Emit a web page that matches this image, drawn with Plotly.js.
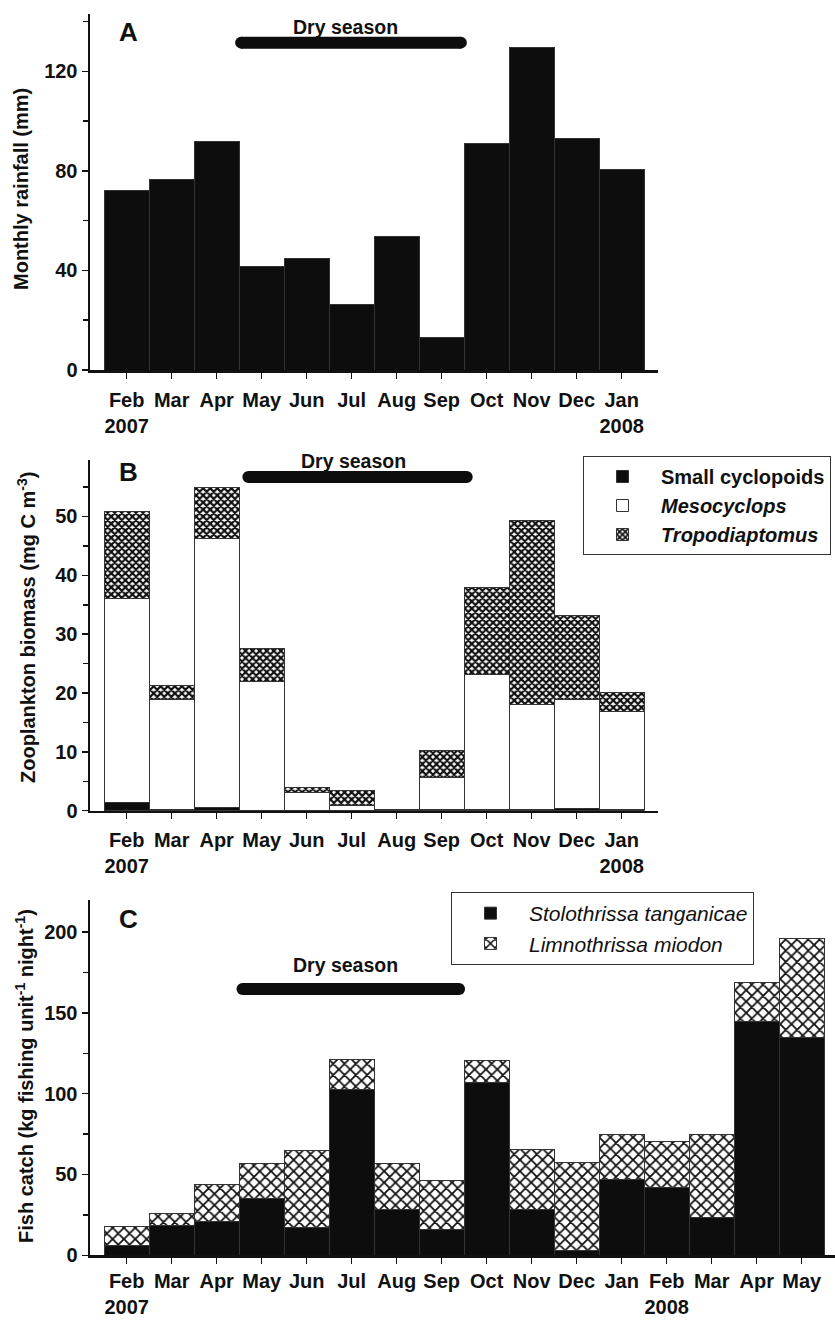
<!DOCTYPE html>
<html>
<head>
<meta charset="utf-8">
<script src="https://cdn.plot.ly/plotly-3.0.1.min.js"></script>
<style>html,body{margin:0;padding:0;background:#fff;}#chart{width:835px;height:1323px;}</style>
</head>
<body>
<div id="chart"></div>
<script>
// ---- Data ----
const monthsAB = ['Feb<br>2007','Mar','Apr','May','Jun','Jul','Aug','Sep','Oct','Nov','Dec','Jan<br>2008'];
const rainfall = [72, 76.7, 91.8, 41.6, 44.9, 26.5, 53.6, 13.1, 90.8, 129.6, 92.9, 80.4];

const smallCyclopoids = [1.4, 0.2, 0.5, 0.1, 0.1, 0.1, 0.2, 0.2, 0.2, 0.2, 0.4, 0.2];
const mesocyclops     = [34.6, 18.7, 45.8, 21.8, 3.0, 0.8, 0.0, 5.5, 22.9, 17.9, 18.5, 16.6];
const tropodiaptomus  = [14.9, 2.3, 8.6, 5.6, 0.8, 2.5, 0.0, 4.6, 14.8, 31.3, 14.2, 3.3];

const monthsC = ['Feb<br>2007','Mar','Apr','May','Jun','Jul','Aug','Sep','Oct','Nov','Dec','Jan','Feb<br>2008','Mar','Apr','May'];
const stolothrissa = [6.2, 18.5, 21.0, 34.9, 17.0, 102.3, 28.4, 16.0, 106.9, 28.1, 3.0, 46.6, 41.7, 23.6, 144.9, 134.6];
const limnothrissa = [11.9, 7.2, 22.6, 22.0, 47.7, 18.9, 28.5, 30.2, 13.7, 37.6, 54.5, 28.4, 28.6, 51.4, 24.1, 61.1];

// Dry season extents (month index units) per panel
const dryA = [2.41, 7.56], dryB = [2.57, 7.69], dryC = [2.44, 7.52];

// ---- Styling helpers ----
const FONT = '"Liberation Sans", Arial, sans-serif';
const idxAB = monthsAB.map((_, i) => i);
const idxC = monthsC.map((_, i) => i);
const outline = {color: '#333', width: 1};

const traces = [
  {type: 'bar', x: idxAB, y: rainfall, xaxis: 'x', yaxis: 'y', width: 1,
   marker: {color: '#0d0d0d', line: outline}, showlegend: false, hoverinfo: 'y'},

  {type: 'bar', x: idxAB, y: smallCyclopoids, xaxis: 'x2', yaxis: 'y2', width: 1,
   name: '<b>Small cyclopoids</b>', legend: 'legend',
   marker: {color: '#0d0d0d', line: outline}},
  {type: 'bar', x: idxAB, y: mesocyclops, xaxis: 'x2', yaxis: 'y2', width: 1,
   name: '<b><i>Mesocyclops</i></b>', legend: 'legend',
   marker: {color: '#ffffff', line: outline}},
  {type: 'bar', x: idxAB, y: tropodiaptomus, xaxis: 'x2', yaxis: 'y2', width: 1,
   name: '<b><i>Tropodiaptomus</i></b>', legend: 'legend',
   marker: {color: '#ffffff', line: outline,
            pattern: {shape: 'x', fgcolor: '#111', bgcolor: '#ffffff', size: 5, solidity: 0.68}}},

  {type: 'bar', x: idxC, y: stolothrissa, xaxis: 'x3', yaxis: 'y3', width: 1,
   name: '<i>Stolothrissa tanganicae</i>', legend: 'legend2',
   marker: {color: '#0d0d0d', line: outline}},
  {type: 'bar', x: idxC, y: limnothrissa, xaxis: 'x3', yaxis: 'y3', width: 1,
   name: '<i>Limnothrissa miodon</i>', legend: 'legend2',
   marker: {color: '#ffffff', line: outline,
            pattern: {shape: 'x', fgcolor: '#111', bgcolor: '#ffffff', size: 8, solidity: 0.4}}}
];

function xax(domain, range, ticktext, tickvals, standoff) {
  return {domain: domain, range: range, tickvals: tickvals, ticktext: ticktext,
    ticks: 'outside', ticklen: 6, tickwidth: 1.5, tickcolor: '#111', ticklabelstandoff: standoff,
    showline: true, linecolor: '#111', linewidth: 2.5, showgrid: false, zeroline: false,
    tickfont: {family: FONT, size: 20, color: '#111', weight: 'bold'}, fixedrange: true};
}
function yax(domain, range, dtick, minor, anchor) {
  return {domain: domain, range: range, dtick: dtick, tick0: 0, anchor: anchor,
    ticks: 'outside', ticklen: 6, tickwidth: 1.5, tickcolor: '#111',
    minor: {dtick: minor, ticks: 'outside', ticklen: 5, tickwidth: 1.5, tickcolor: '#111', showgrid: false},
    showline: true, linecolor: '#111', linewidth: 2.5, showgrid: false, zeroline: false,
    tickfont: {family: FONT, size: 20, color: '#111', weight: 'bold'},
    fixedrange: true};
}

const W = 835, H = 1323;
const px = v => v / W, py = v => 1 - v / H;

function dryShapes(xr, yc, xref, yref) {
  return [
    {type: 'rect', xref: xref, yref: yref, x0: xr[0], x1: xr[1], ysizemode: 'pixel', yanchor: yc,
     y0: -6, y1: 6, fillcolor: '#0d0d0d', line: {width: 0}, layer: 'above'},
    {type: 'circle', xref: xref, yref: yref, xsizemode: 'pixel', xanchor: xr[0], x0: -6, x1: 6,
     ysizemode: 'pixel', yanchor: yc, y0: -6, y1: 6, fillcolor: '#0d0d0d', line: {width: 0}},
    {type: 'circle', xref: xref, yref: yref, xsizemode: 'pixel', xanchor: xr[1], x0: -6, x1: 6,
     ysizemode: 'pixel', yanchor: yc, y0: -6, y1: 6, fillcolor: '#0d0d0d', line: {width: 0}}
  ];
}
function dryShapesInset(xr, yc, xref, yref, pxPerUnit) {
  const inset = 6 / pxPerUnit;
  return dryShapes([xr[0] + inset, xr[1] - inset], yc, xref, yref);
}

function ann(text, x, y, xref, yref, size, extra) {
  return Object.assign({text: text, x: x, y: y, xref: xref, yref: yref, showarrow: false,
    xanchor: 'center', yanchor: 'middle',
    font: {family: FONT, size: size, color: '#111', weight: 'bold'}}, extra || {});
}
function ytitle(text, xPix, yPix) {
  return ann(text, px(xPix), py(yPix), 'paper', 'paper', 20, {textangle: -90});
}

const layout = {
  width: W, height: H,
  margin: {l: 0, r: 0, t: 0, b: 0},
  paper_bgcolor: '#fff', plot_bgcolor: 'rgba(0,0,0,0)',
  barmode: 'stack', bargap: 0,
  showlegend: true,
  xaxis:  xax([px(90), px(658)], [-0.815, 11.807], monthsAB, idxAB, 4),
  yaxis:  yax([py(370), py(14)], [0, 143], 40, 20, 'x'),
  xaxis2: Object.assign(xax([px(90), px(658)], [-0.815, 11.807], monthsAB, idxAB, 4), {anchor: 'y2'}),
  yaxis2: yax([py(810.7), py(460)], [0, 59.6], 10, 5, 'x2'),
  xaxis3: Object.assign(xax([px(90), 1], [-0.815, 15.74], monthsC, idxC, 0), {anchor: 'y3'}),
  yaxis3: yax([py(1255.3), py(899.7)], [0, 220], 50, 25, 'x3'),
  legend: {x: px(583), y: py(456), xanchor: 'left', yanchor: 'top', traceorder: 'normal',
    bgcolor: '#fff', bordercolor: '#333', borderwidth: 1, itemwidth: 67,
    font: {family: FONT, size: 20, color: '#111'}, tracegroupgap: 0},
  legend2: {x: px(451), y: py(892), xanchor: 'left', yanchor: 'top', traceorder: 'normal',
    bgcolor: '#fff', bordercolor: '#333', borderwidth: 1, itemwidth: 67,
    font: {family: FONT, size: 21, color: '#111'}, tracegroupgap: 0},
  shapes: [].concat(
    dryShapesInset(dryA, 131.5, 'x', 'y', 45),
    dryShapesInset(dryB, 56.7, 'x2', 'y2', 45),
    dryShapesInset(dryC, 164.8, 'x3', 'y3', 45)
  ),
  annotations: [
    ann('A', 0.05, 135.6, 'x', 'y', 26),
    ann('Dry season', 4.87, 137.9, 'x', 'y', 19.5),
    ann('B', 0.05, 57.5, 'x2', 'y2', 26),
    ann('Dry season', 5.03, 59.4, 'x2', 'y2', 19.5),
    ann('C', 0.05, 208, 'x3', 'y3', 26),
    ann('Dry season', 4.87, 179.8, 'x3', 'y3', 19.5),
    ytitle('Monthly rainfall (mm)', 21, 189),
    ytitle('Zooplankton biomass (mg C m<sup>-3</sup>)', 26, 628),
    ytitle('Fish catch (kg fishing unit<sup>-1</sup> night<sup>-1</sup>)', 24, 1076)
  ]
};

Plotly.newPlot('chart', traces, layout, {displayModeBar: false, staticPlot: true});
</script>
</body>
</html>
